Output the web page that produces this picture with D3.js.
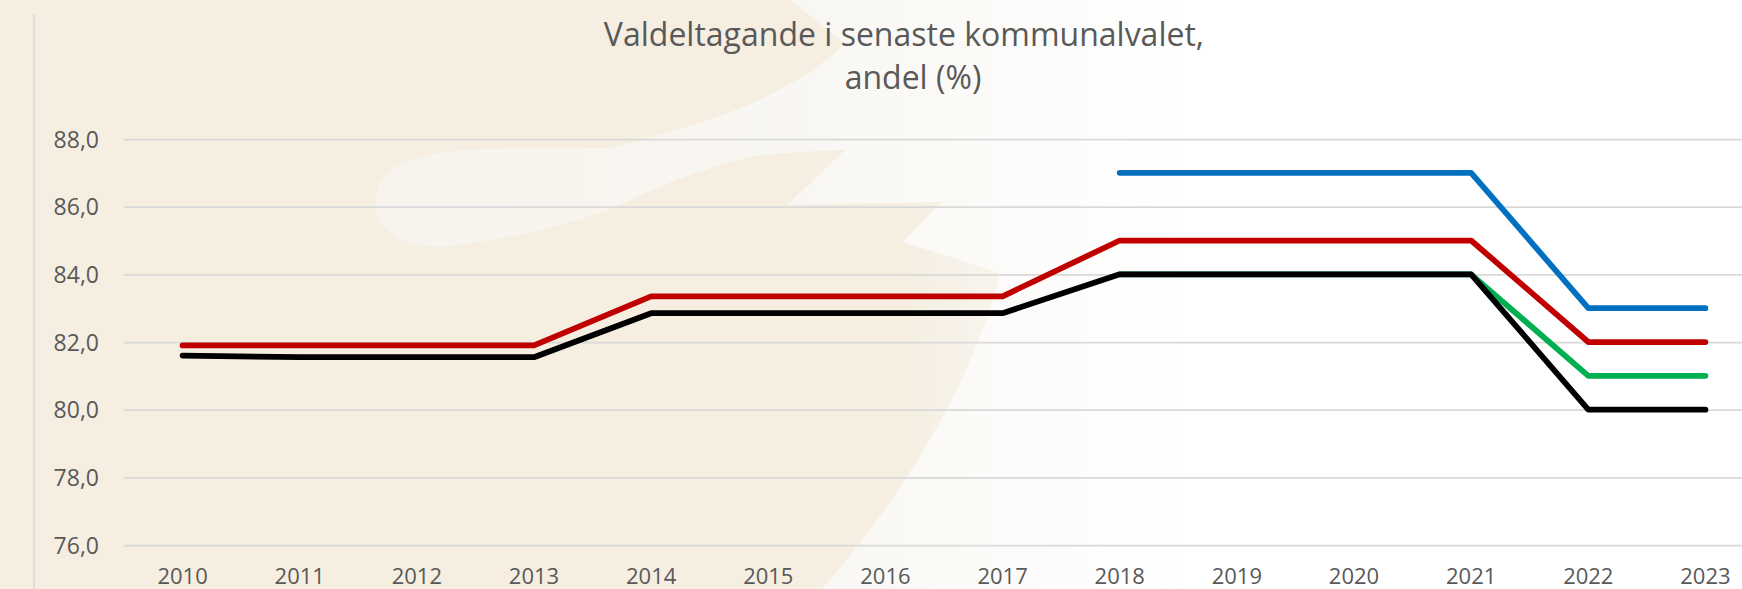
<!DOCTYPE html>
<html>
<head>
<meta charset="utf-8">
<script src="https://cdn.jsdelivr.net/npm/d3@7"></script>
<style>
  html, body { margin: 0; padding: 0; background: #ffffff; }
  svg { display: block; }
  text { font-family: "Open Sans", "Liberation Sans", sans-serif; }
</style>
</head>
<body>
<svg id="chart" width="1742" height="589"></svg>
<script>
// Years on the category axis
const years = ["2010","2011","2012","2013","2014","2015","2016","2017","2018","2019","2020","2021","2022","2023"];

// Voter turnout in the latest municipal election, share (%)
const blueValues  = [null, null, null, null, null, null, null, null, 87.0, 87.0, 87.0, 87.0, 83.0, 83.0];
const redValues   = [81.9, 81.9, 81.9, 81.9, 83.35, 83.35, 83.35, 83.35, 85.0, 85.0, 85.0, 85.0, 82.0, 82.0];
const greenValues = [null, null, null, null, null, null, null, null, 84.0, 84.0, 84.0, 84.0, 81.0, 81.0];
const blackValues = [81.6, 81.55, 81.55, 81.55, 82.85, 82.85, 82.85, 82.85, 84.0, 84.0, 84.0, 84.0, 80.0, 80.0];

// Value axis ticks
const yTicks = [76, 78, 80, 82, 84, 86, 88];

const titleLines = ["Valdeltagande i senaste kommunalvalet,", "andel (%)"];

const W = 1742, H = 589;
const svg = d3.select("#chart");
const defs = svg.append("defs");

// ---- background: beige page with a pale emblem fading to white on the right
svg.append("rect").attr("width", W).attr("height", H).attr("fill", "#ffffff");

const fade = defs.append("linearGradient").attr("id", "fade")
  .attr("gradientUnits", "userSpaceOnUse").attr("x1", 0).attr("x2", W).attr("y1", 0).attr("y2", 0);
fade.append("stop").attr("offset", 900 / W).attr("stop-color", "#f5eee1");
fade.append("stop").attr("offset", 1020 / W).attr("stop-color", "#f9f6f0");
fade.append("stop").attr("offset", 1160 / W).attr("stop-color", "#ffffff");
svg.append("rect").attr("width", W).attr("height", H).attr("fill", "url(#fade)");

const pale = defs.append("linearGradient").attr("id", "pale")
  .attr("gradientUnits", "userSpaceOnUse").attr("x1", 360).attr("x2", 1180).attr("y1", 0).attr("y2", 0);
pale.append("stop").attr("offset", 0).attr("stop-color", "#f7f3ec");
pale.append("stop").attr("offset", 0.55).attr("stop-color", "#f9f7f3");
pale.append("stop").attr("offset", 1).attr("stop-color", "#ffffff");

// emblem: a tapered wing on the left, open space above, notched edge to the right
svg.append("path")
  .attr("fill", "url(#pale)")
  .attr("d", [
    "M 376,212",
    "C 368,168 410,152 480,149",
    "L 612,148",
    "C 660,135 720,118 760,100",
    "C 800,80 830,60 844,43",
    "L 790,0 L 1742,0 L 1742,589 L 822,589",
    "C 900,500 975,380 1000,273",
    "L 903,242 L 941,202 L 787,205 L 845,150",
    "C 790,152 760,155 746,158",
    "C 700,170 660,185 620,205",
    "C 570,225 510,238 452,246",
    "C 410,250 382,236 376,212 Z"
  ].join(" "));

// ---- frame line on the left
svg.append("line")
  .attr("x1", 34).attr("x2", 34).attr("y1", 14).attr("y2", H)
  .attr("stroke", "#d9d9d9").attr("stroke-width", 1.5);

// ---- scales
const x = d3.scaleBand().domain(years).range([124, 1764]).padding(0);
const xc = d => x(d) + x.bandwidth() / 2;
const y = d3.scaleLinear().domain([76, 88]).range([545, 139]);

// ---- gridlines and value labels
const yAxis = d3.axisLeft(y).tickValues(yTicks).tickSize(0).tickPadding(0)
  .tickFormat(d => d3.format(".1f")(d).replace(".", ","));
const gy = svg.append("g").attr("transform", "translate(99,0)").call(yAxis);
gy.select(".domain").remove();
gy.selectAll("text")
  .attr("font-family", "Open Sans, sans-serif")
  .attr("font-size", 23).attr("fill", "#595959").attr("dy", "0.36em");

const grid = d3.axisLeft(y).tickValues(yTicks).tickSize(-(W - 124)).tickFormat("");
const gg = svg.append("g").attr("transform", "translate(124,0)").call(grid);
gg.select(".domain").remove();
gg.selectAll("line").attr("stroke", "#d9d9d9").attr("stroke-width", 1.75);

// ---- category labels
const xAxis = d3.axisBottom(x).tickSize(0).tickPadding(0);
const gx = svg.append("g").attr("transform", "translate(0,584)").call(xAxis);
gx.select(".domain").remove();
gx.selectAll("text")
  .attr("font-family", "Open Sans, sans-serif")
  .attr("font-size", 22).attr("fill", "#595959").attr("dy", 0);

// ---- title
svg.append("g").selectAll("text").data(titleLines).join("text")
  .attr("x", (d, i) => i === 0 ? 904 : 913)
  .attr("y", (d, i) => i === 0 ? 46 : 89)
  .attr("text-anchor", "middle")
  .attr("font-size", 32)
  .attr("fill", "#595959")
  .text(d => d);

// ---- series lines (drawn back to front)
const series = [
  { values: blueValues,  color: "#0070c0" },
  { values: redValues,   color: "#c00000" },
  { values: greenValues, color: "#00b050" },
  { values: blackValues, color: "#000000" }
];
const line = d3.line()
  .defined(d => d.v != null)
  .x(d => xc(d.year))
  .y(d => y(d.v));

svg.append("g").selectAll("path").data(series).join("path")
  .attr("fill", "none")
  .attr("stroke", s => s.color)
  .attr("stroke-width", 5.75)
  .attr("stroke-linecap", "round")
  .attr("stroke-linejoin", "round")
  .attr("d", s => line(years.map((yr, i) => ({ year: yr, v: s.values[i] }))));
</script>
</body>
</html>
